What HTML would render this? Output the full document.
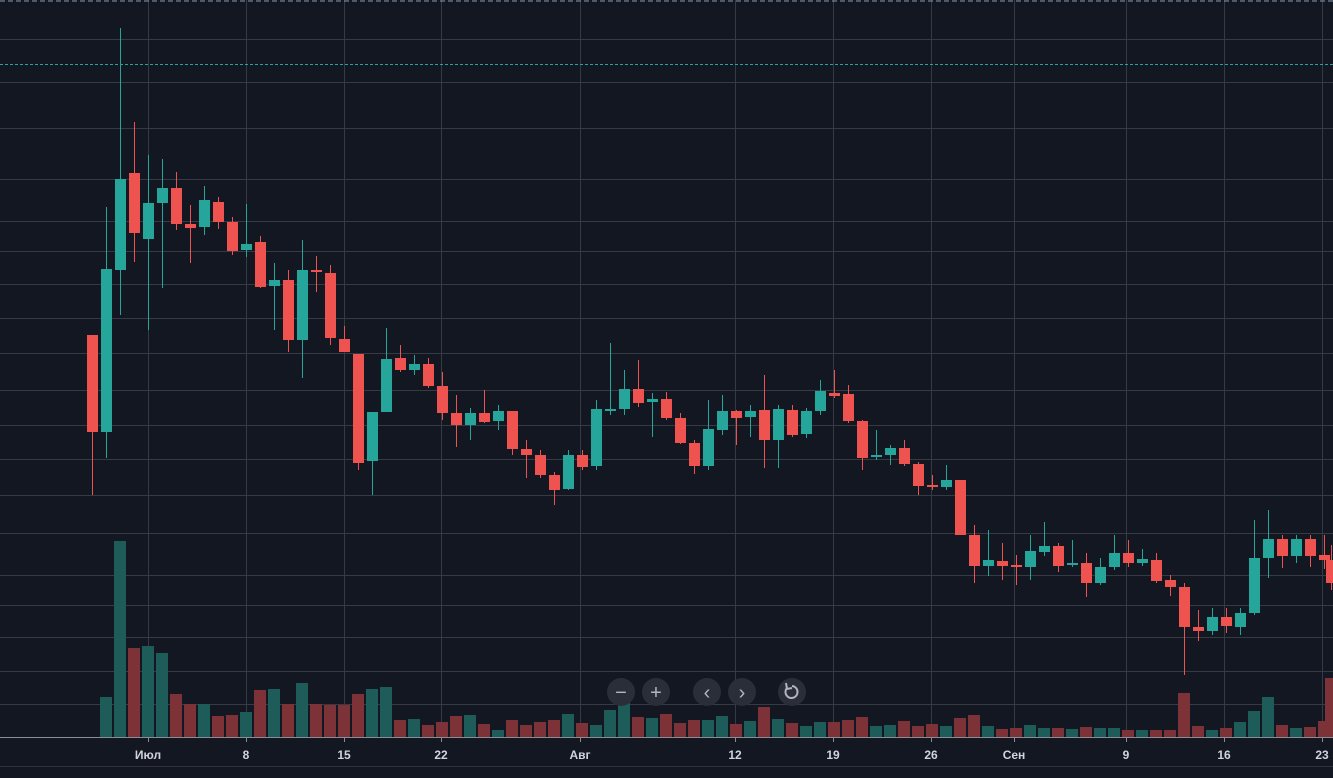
<!DOCTYPE html>
<html><head><meta charset="utf-8"><style>
html,body{margin:0;padding:0;background:#131722;width:1333px;height:778px;overflow:hidden}
svg text{font-family:"Liberation Sans",sans-serif;font-size:12px;fill:#d1d4dc;font-weight:bold}
</style></head><body>
<svg id="s" width="1333" height="778" xmlns="http://www.w3.org/2000/svg">
<rect width="1333" height="778" fill="#131722"/>
<g id="grid" stroke="#363a45" stroke-width="1"></g>
<line x1="0" y1="1" x2="1333" y2="1" stroke="#8a9bb0" stroke-dasharray="5,3"/>
<line x1="0" y1="64.5" x2="1333" y2="64.5" stroke="#26a69a" stroke-dasharray="3,2"/>
<g id="vol"></g>
<g id="c"></g>
<line x1="0" y1="737.5" x2="1333" y2="737.5" stroke="#8a8d96"/>
<line x1="0" y1="766.5" x2="1333" y2="766.5" stroke="#2e323e"/>
<g id="lab"></g>
<g id="btn"></g>
</svg>
<script>
const NS="http://www.w3.org/2000/svg";
function el(p,t,a,txt){const e=document.createElementNS(NS,t);for(const k in a)e.setAttribute(k,a[k]);if(txt)e.textContent=txt;document.getElementById(p).appendChild(e);return e;}
const hy=[39,82,128,179,221,251,284,318,353,390,425,459,495,533,575,605,637,671,704];
hy.forEach(y=>el('grid','line',{x1:0,x2:1333,y1:y+.5,y2:y+.5}));
const vx=[148,246,344,441,580,735,833,931,1014,1126,1224,1322];
vx.forEach(x=>el('grid','line',{x1:x+.5,x2:x+.5,y1:0,y2:737}));
const D=[[335,432,335,495],[432,269,207,458],[270,179,28,315],[173,233,122,262],[239,203,155,330],[203,188,159,288],[188,224,172,230],[224,228,205,263],[227,200,186,235],[202,222,197,229],[222,251,217,255],[250,244,204,257],[242,287,236,288],[286,280,263,330],[280,340,270,352],[340,270,240,378],[270,272,256,292],[273,338,265,345],[339,352,326,352],[354,463,354,470],[461,412,412,495],[412,359,328,412],[358,370,345,372],[370,364,355,375],[364,386,358,388],[386,413,372,420],[413,425,395,447],[425,413,408,440],[413,422,390,423],[421,411,405,430],[411,449,411,455],[449,455,440,478],[455,475,450,478],[475,490,472,505],[489,455,450,490],[455,467,450,470],[466,409,400,470],[410,409,343,415],[409,389,370,415],[389,403,360,407],[402,399,393,437],[399,418,392,420],[418,443,413,444],[443,466,440,474],[466,429,400,470],[430,411,395,435],[411,418,410,445],[417,411,405,437],[410,440,375,468],[440,409,405,468],[410,435,405,437],[434,411,408,438],[411,391,380,415],[393,396,370,398],[394,421,385,423],[421,458,420,470],[457,455,430,460],[455,448,445,465],[448,464,440,466],[464,486,462,495],[485,487,475,490],[487,480,465,490],[480,535,480,535],[535,566,525,583],[566,560,530,576],[561,566,543,580],[565,567,555,585],[567,551,535,580],[552,546,522,556],[546,566,543,572],[564,563,540,567],[563,583,553,597],[583,567,558,585],[567,553,535,570],[553,563,540,567],[563,559,549,566],[560,581,553,583],[580,587,575,596],[587,627,583,675],[627,631,610,641],[631,617,608,635],[617,626,608,633],[627,613,608,635],[613,558,520,615],[558,539,510,578],[539,556,535,568],[556,539,535,563],[539,556,535,567],[555,560,535,569],[560,583,545,590]];
const V=[737,697,541,648,646,653,694,704,704,716,715,712,690,689,704,683,704,705,705,694,689,687,720,719,725,722,716,715,724,730,720,725,722,720,714,723,725,710,696,717,718,714,723,720,720,716,724,721,707,719,723,726,722,722,720,717,726,725,721,726,724,726,718,715,726,729,728,725,728,728,729,727,728,728,730,730,730,730,693,726,730,728,722,711,697,725,728,727,721,678];
D.forEach((d,i)=>{let x=92+14*i; if(i==89)x=1331;const[o,c,h,l]=d;const up=c<=o;const col=up?'#26a69a':'#ef5350';
 el('vol','rect',{x:x-6,y:V[i],width:12,height:737-V[i],fill:up?'#1e5c5a':'#7c3237'});
 el('c','line',{x1:x+.5,x2:x+.5,y1:h,y2:l,stroke:col,'stroke-width':1});
 const t=Math.min(o,c),b=Math.max(o,c);el('c','rect',{x:x-5,y:t,width:11,height:Math.max(b-t,2),fill:col});
});
const L=[['Июл',148],['8',246],['15',344],['22',441],['Авг',580],['12',735],['19',833],['26',931],['Сен',1014],['9',1126],['16',1224],['23',1322]];
L.forEach(([t,x])=>{el('lab','text',{x:x,y:759,'text-anchor':'middle'},t);el('lab','line',{x1:x+.5,x2:x+.5,y1:738,y2:742,stroke:'#8a8d96'});});
const B=[[621,'−'],[656,'+'],[707,'‹'],[742,'›']];
B.forEach(([x,t])=>{el('btn','circle',{cx:x,cy:692,r:14,fill:'#2a2e39'});const tt=el('btn','text',{x:x,y:699,'text-anchor':'middle'},t);tt.setAttribute('style','font-size:20px;font-weight:normal;fill:#b2b5be');});
el('btn','circle',{cx:792,cy:692,r:14,fill:'#2a2e39'});
el('btn','path',{d:'M787 688 A6 6 0 1 0 792 686',fill:'none',stroke:'#b2b5be','stroke-width':2});
el('btn','path',{d:'M786 683 L787 689 L792 688',fill:'none',stroke:'#b2b5be','stroke-width':2});
</script>
</body></html>
